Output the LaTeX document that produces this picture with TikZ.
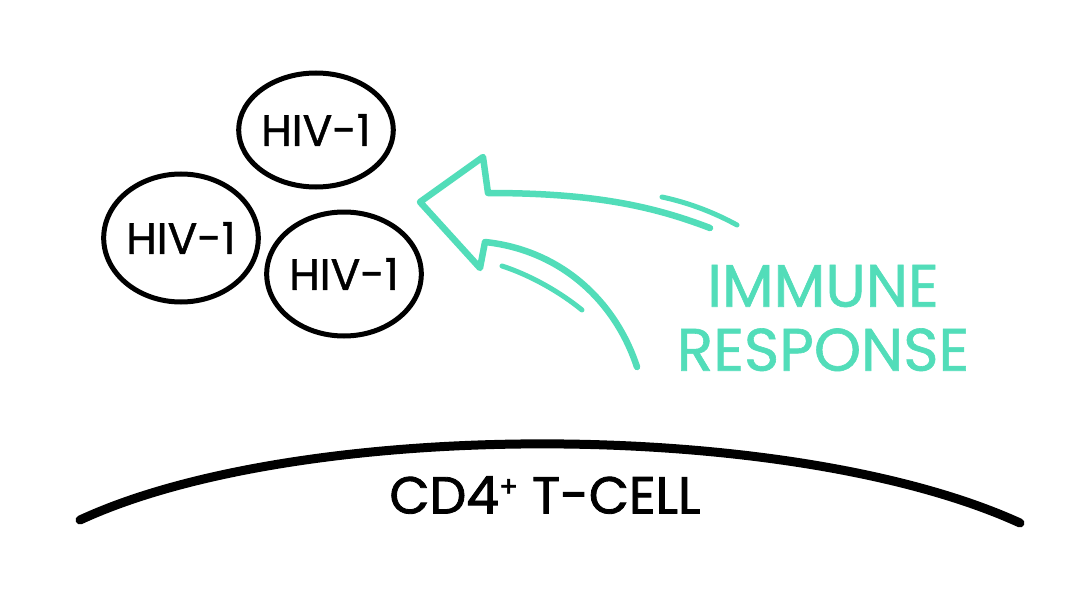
\documentclass[tikz,border=0pt]{standalone}
\usepackage{fontspec}
\setmainfont{Poppins}
\newfontfamily\boldhand[FakeBold=1.6]{Poppins}
\newfontfamily\medhand[FakeBold=1.0]{Poppins}
\usetikzlibrary{shapes.geometric}
\definecolor{teal1}{HTML}{52DDB9}
\tikzset{
  virus/.style={ellipse, draw=black, line width=5pt, minimum width=142pt, minimum height=114pt, inner sep=0pt, font=\medhand\fontsize{44}{48}\selectfont},
  arrowline/.style={draw=teal1, line width=6.5pt, line join=round, line cap=round},
  speed/.style={draw=teal1, line width=5pt, line cap=round},
  label/.style={text=teal1, font=\medhand\fontsize{60}{64}\selectfont, align=center, inner sep=0pt}
}
\begin{document}
\begin{tikzpicture}[x=1pt,y=-1pt]
\useasboundingbox (0,0) rectangle (1080,610);
\node[virus] (v1) at (316,130) {HIV-1};
\node[virus, minimum width=138pt, minimum height=128pt] (v2) at (181,238) {HIV-1};
\node[virus, minimum width=136pt, minimum height=124pt] (v3) at (344,274) {HIV-1};
% arrow
\coordinate (lowend) at (637,367);
\coordinate (lowbase) at (485,242);
\coordinate (lowbarb) at (480,268);
\coordinate (tip) at (420,202);
\coordinate (upbarb) at (483,157);
\coordinate (upbase) at (488,193);
\coordinate (upend) at (710,228);
\draw[arrowline] (lowend) .. controls (615,300) and (560,250) .. (lowbase) -- (lowbarb) -- (tip) -- (upbarb) -- (upbase) .. controls (590,193) and (650,205) .. (upend);
\coordinate (s1a) at (662,197); \coordinate (s1b) at (737,225);
\coordinate (s2a) at (502,266); \coordinate (s2b) at (582,310);
\draw[speed] (s1a) .. controls (690,203) and (715,213) .. (s1b);
\draw[speed] (s2a) .. controls (530,275) and (560,292) .. (s2b);
\node[label] (imm) at (823,318) {IMMUNE\\[0pt]RESPONSE};
% cell
\coordinate (cl) at (80,520);
\coordinate (cr) at (1020,523);
\draw[line width=9pt, line cap=round] (cl) .. controls (300,418) and (790,418) .. (cr);
\node[font=\boldhand\fontsize{52}{56}\selectfont, inner sep=0pt] (cell) at (545,495) {CD4\raisebox{17pt}{\fontsize{28}{30}\selectfont+} T-CELL};
\end{tikzpicture}
\end{document}
